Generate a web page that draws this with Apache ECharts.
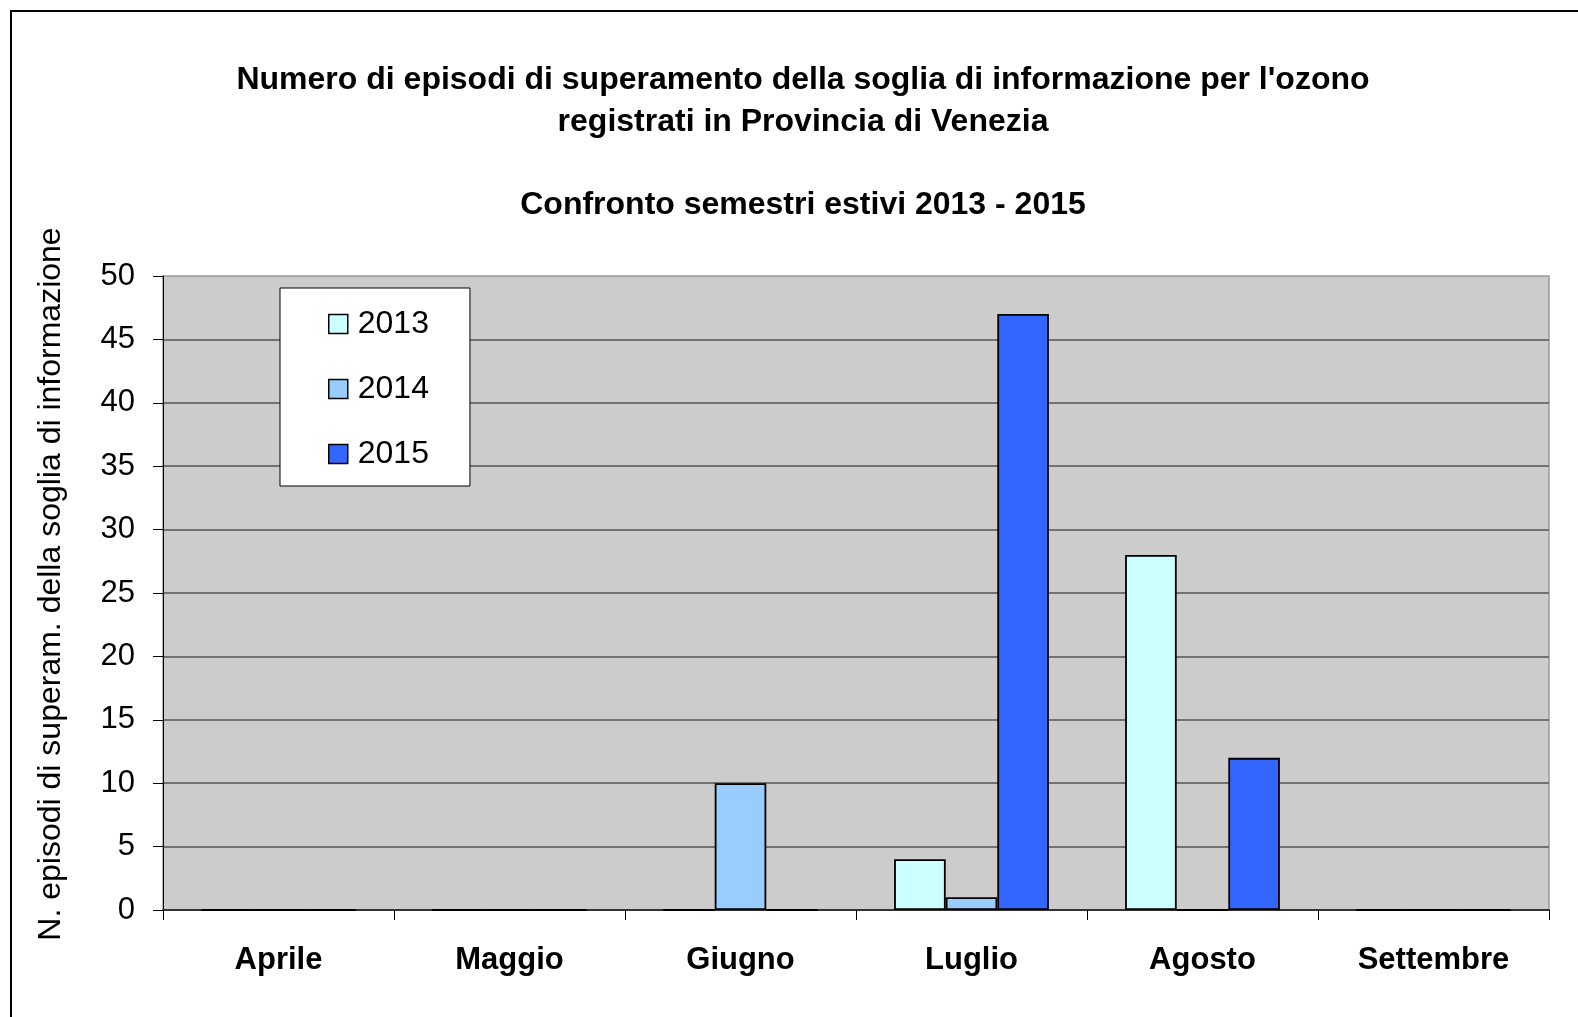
<!DOCTYPE html>
<html>
<head>
<meta charset="utf-8">
<script src="https://cdn.jsdelivr.net/npm/echarts@6/dist/echarts.min.js"></script>
<style>
  html, body { margin: 0; padding: 0; background: #ffffff; }
  #chart { width: 1578px; height: 1017px; }
</style>
</head>
<body>
<div id="chart"></div>
<script>
// Mesi del semestre estivo
const months = ['Aprile', 'Maggio', 'Giugno', 'Luglio', 'Agosto', 'Settembre'];

// Episodi di superamento della soglia di informazione per anno
const years = ['2013', '2014', '2015'];
const values2013 = [0, 0, 0, 4, 28, 0];
const values2014 = [0, 0, 10, 1, 0, 0];
const values2015 = [0, 0, 0, 47, 12, 0];

const yTicks = { min: 0, max: 50, interval: 5 };

const barColors = ['#ccffff', '#99ccff', '#3366ff'];
const FONT = '"Liberation Sans", Arial, sans-serif';

const chart = echarts.init(document.getElementById('chart'), null, { renderer: 'canvas' });

const seriesData = [values2013, values2014, values2015];

chart.setOption({
  backgroundColor: '#ffffff',
  animation: false,
  textStyle: { fontFamily: FONT },
  title: [
    {
      text: "Numero di episodi di superamento della soglia di informazione per l'ozono\nregistrati in Provincia di Venezia",
      left: 798,
      top: 54,
      textAlign: 'center',
      textStyle: { fontFamily: FONT, fontSize: 32, fontWeight: 'bold', color: '#000', lineHeight: 42 }
    },
    {
      text: 'Confronto semestri estivi 2013 - 2015',
      left: 798,
      top: 184,
      textAlign: 'center',
      textStyle: { fontFamily: FONT, fontSize: 32, fontWeight: 'bold', color: '#000' }
    }
  ],
  graphic: [
    {
      type: 'rect',
      shape: { x: 11, y: 11, width: 1600, height: 1100 },
      style: { fill: null, stroke: '#000', lineWidth: 2 },
      silent: true,
      z: 100
    }
  ],
  legend: {
    data: years,
    orient: 'vertical',
    left: 280,
    top: 288,
    backgroundColor: '#ffffff',
    borderColor: '#000',
    borderWidth: 1,
    padding: [20, 41, 16, 48],
    itemGap: 33,
    itemWidth: 19,
    itemHeight: 19,
    icon: 'rect',
    itemStyle: { borderColor: '#000', borderWidth: 1.5 },
    textStyle: { fontFamily: FONT, fontSize: 32, color: '#000', lineHeight: 31, padding: [0, 0, 0, 5] },
    selectedMode: false
  },
  grid: {
    left: 163,
    top: 276,
    right: 29,
    bottom: 107,
    show: true,
    backgroundColor: '#cccccc',
    borderColor: '#999999',
    borderWidth: 1.5
  },
  xAxis: {
    type: 'category',
    data: months,
    axisLine: { show: true, lineStyle: { color: '#333', width: 2 } },
    axisTick: { show: true, length: 10, alignWithLabel: false, lineStyle: { color: '#000', width: 1 } },
    axisLabel: { fontFamily: FONT, fontSize: 31, fontWeight: 'bold', color: '#000', margin: 35 },
    splitLine: { show: false }
  },
  yAxis: {
    type: 'value',
    min: yTicks.min,
    max: yTicks.max,
    interval: yTicks.interval,
    name: 'N. episodi di superam. della soglia di informazione',
    nameLocation: 'middle',
    nameGap: 96,
    nameTextStyle: { fontFamily: FONT, fontSize: 32, color: '#000', padding: [0, 0, 0, 18] },
    axisLine: { show: true, lineStyle: { color: '#000', width: 1 } },
    axisTick: { show: true, length: 10, lineStyle: { color: '#000', width: 1 } },
    axisLabel: { fontFamily: FONT, fontSize: 31, color: '#000', margin: 28 },
    splitLine: { show: true, showMinLine: false, showMaxLine: false, lineStyle: { color: '#555555', width: 1.5 } }
  },
  series: years.map((y, i) => ({
    name: y,
    type: 'bar',
    data: seriesData[i],
    barGap: '0%',
    barCategoryGap: '33%',
    itemStyle: { color: barColors[i], borderColor: '#000', borderWidth: 1.8 }
  }))
});
</script>
</body>
</html>
